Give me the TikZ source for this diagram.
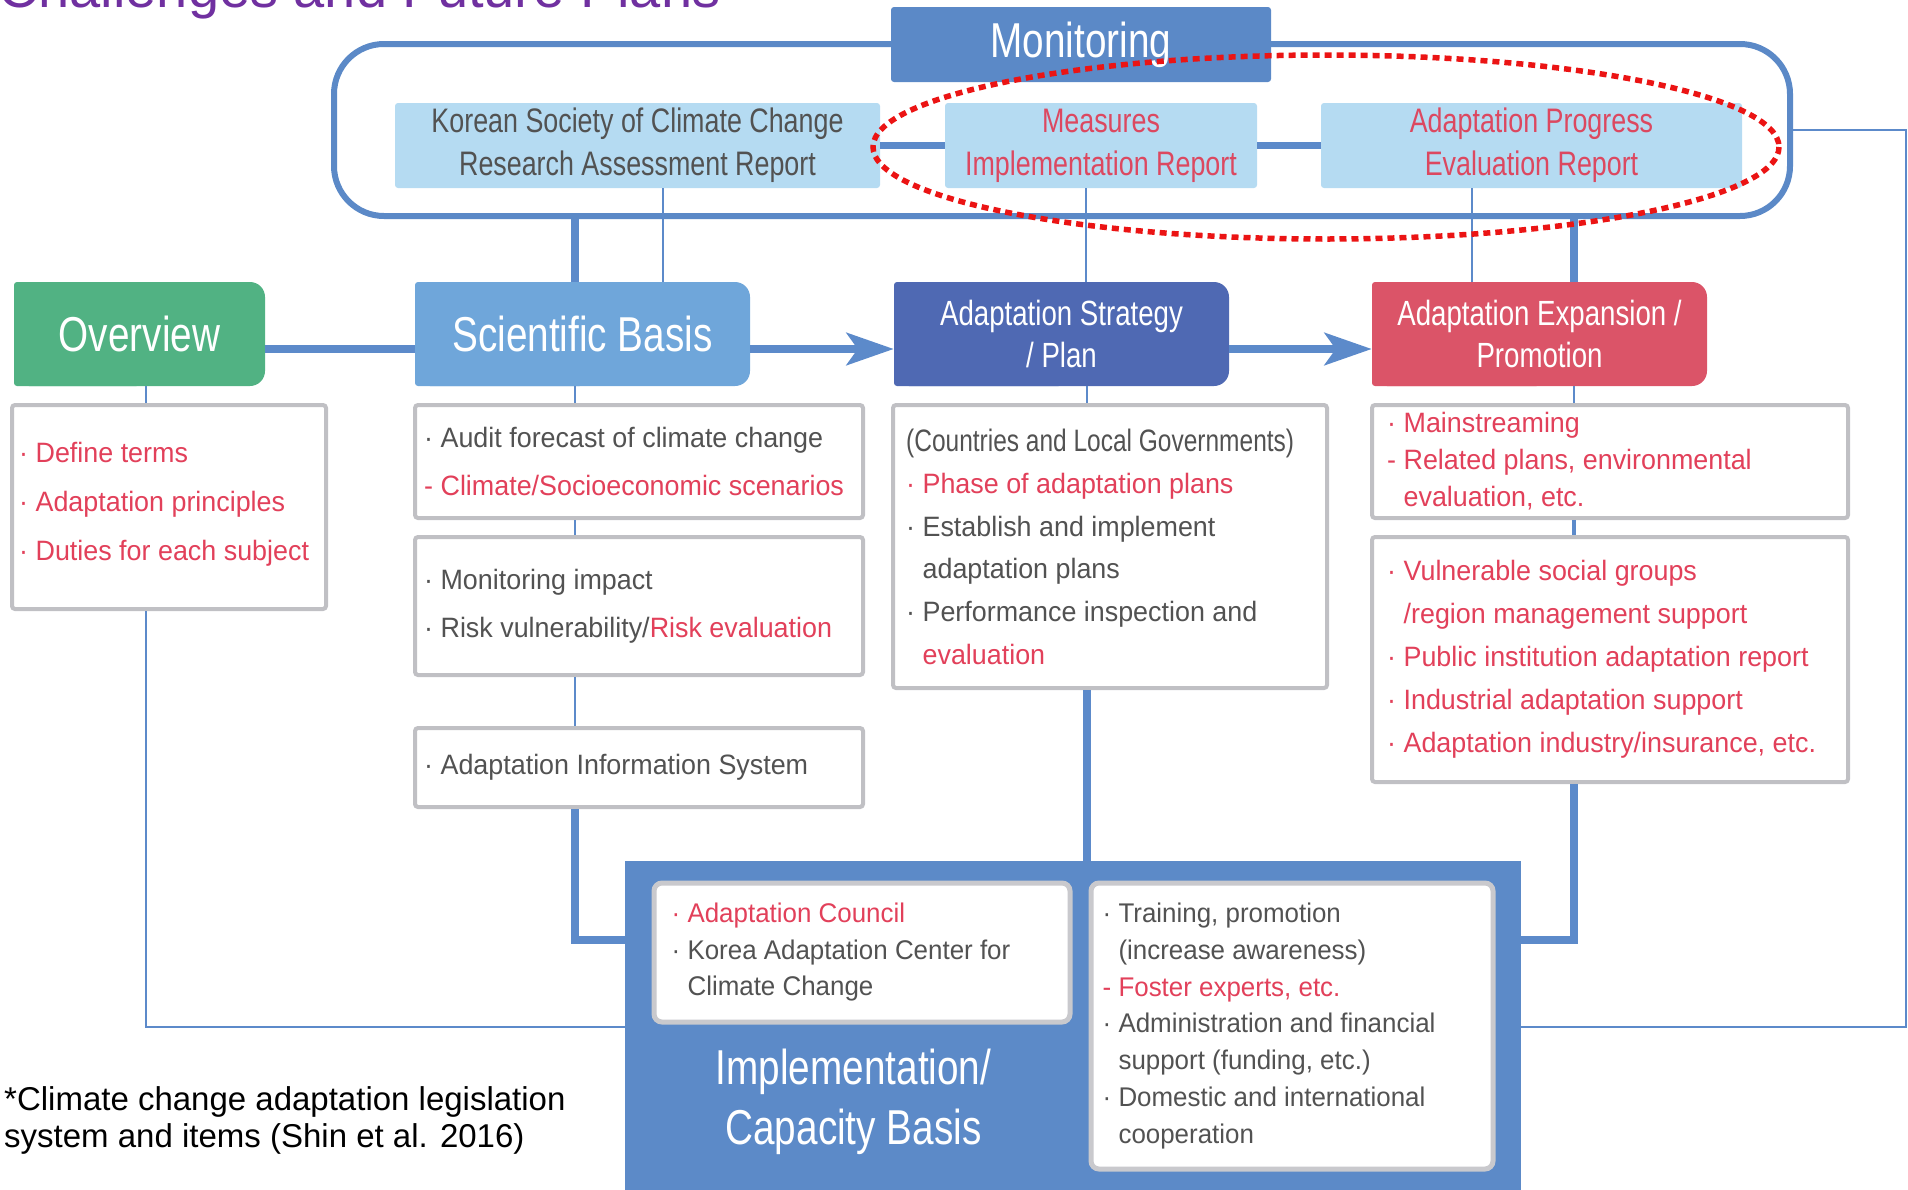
\documentclass[tikz,border=0pt]{standalone}
\usepackage{fontspec}
\setmainfont{Liberation Sans}
\newfontfamily\headfont{Liberation Sans}[FakeStretch=0.79]
\newfontfamily\boxfont{Liberation Sans}[FakeStretch=0.96]
\usetikzlibrary{arrows.meta}
\usepackage{xcolor}

\definecolor{monblue}{RGB}{91,137,199}
\definecolor{linkblue}{RGB}{92,138,202}
\definecolor{panelblue}{RGB}{92,138,200}
\definecolor{ovgreen}{RGB}{81,178,131}
\definecolor{sbblue}{RGB}{111,166,218}
\definecolor{asblue}{RGB}{79,105,179}
\definecolor{aered}{RGB}{219,84,104}
\definecolor{rptblue}{RGB}{181,219,242}
\definecolor{boxgray}{RGB}{192,192,196}
\definecolor{txtgray}{RGB}{82,82,82}
\definecolor{txtred}{RGB}{226,64,90}
\definecolor{rptred}{RGB}{220,72,96}
\definecolor{dotred}{RGB}{235,20,20}
\definecolor{titlepurple}{RGB}{112,48,160}

\newcommand{\hdbig}{\headfont\fontsize{49}{60}\selectfont}
\newcommand{\hdmid}{\headfont\fontsize{35}{42}\selectfont}
\newcommand{\hdrpt}{\headfont\fontsize{34}{43}\selectfont}

\begin{document}
\begin{tikzpicture}[
  x=1pt, y=-1pt,
  header/.style={
    fill=white, text=white, align=center, inner sep=0pt,
    minimum width=335pt, minimum height=104pt,
    path picture={
      \fill[#1, rounded corners=15pt]
        (path picture bounding box.south west) rectangle (path picture bounding box.north east);
      \fill[#1, rounded corners=3pt]
        (path picture bounding box.south west) rectangle (path picture bounding box.north);
    },
  },
  rptbox/.style={
    fill=rptblue, rounded corners=3pt, inner sep=0pt,
    minimum height=85pt, align=center, font=\hdrpt,
  },
  bodybox/.style={
    draw=boxgray, line width=4pt, fill=white, rounded corners=3pt, inner sep=0pt,
  },
  innerbox/.style={
    draw=boxgray!85, line width=5pt, fill=white, rounded corners=8pt, inner sep=0pt,
  },
  bodytext/.style 2 args={
    anchor=west, align=left, inner sep=0pt, text=txtgray,
    font=\boxfont\fontsize{#1}{#2}\selectfont,
  },
  thickcon/.style={draw=linkblue, line width=8.5pt},
  thincon/.style={draw=linkblue, line width=2.5pt},
  arrowcon/.style={thickcon, -{Stealth[length=47pt, width=32pt, inset=11pt]}},
  ]
  \useasboundingbox (0,0) rectangle (1908,1189);

  % page title, cut by the top edge
  \node[anchor=base west, inner sep=0pt, text=titlepurple,
    font=\fontsize{56}{56}\selectfont] (title) at (-2,7) {Challenges and Future Plans};

  \coordinate (lowrun) at (0,1027);
  \coordinate (midrun) at (0,940);
  \coordinate (rimrun) at (1906,0);

  % monitoring
  \node[draw=monblue, line width=6pt, rounded corners=50pt,
    minimum width=1456pt, minimum height=172pt] (monframe) at (1062,130) {};
  \node[rptbox, text=txtgray, minimum width=485pt]
    (ksr) at (637.5,145.5) {Korean Society of Climate Change\\Research Assessment Report};
  \node[rptbox, text=rptred, minimum width=312pt]
    (mir) at (1101,145.5) {Measures\\Implementation Report};
  \node[rptbox, text=rptred, minimum width=421pt]
    (aper) at (1531.5,145.5) {Adaptation Progress\\Evaluation Report};
  \draw[thickcon, line width=7pt] (ksr) -- (mir);
  \draw[thickcon, line width=7pt] (mir) -- (aper);
  \node[fill=monblue, rounded corners=3pt, text=white, font=\hdbig,
    minimum width=380pt, minimum height=75pt] (mon) at (1081,44.5) {Monitoring};

  % headers
  \node[header=ovgreen, minimum width=251pt, font=\hdbig] (ov) at (139.5,334) {Overview};
  \node[header=sbblue, font=\hdbig] (sb) at (582.5,334) {Scientific Basis};
  \node[header=asblue, font=\hdmid] (as) at (1061.5,334) {Adaptation Strategy\\/ Plan};
  \node[header=aered, font=\hdmid] (ae) at (1539.5,334) {Adaptation Expansion /\\Promotion};

  \draw[thickcon] ([yshift=-15pt]ov.east) -- ([yshift=-15pt]sb.west);
  \draw[arrowcon] ([yshift=-15pt]sb.east) -- ([yshift=-15pt]as.west);
  \draw[arrowcon] ([yshift=-15pt]as.east) -- ([yshift=-15pt]ae.west);

  \draw[thickcon] ([xshift=-7.5pt]sb.north) -- ([xshift=-7.5pt]sb.north |- monframe.south);
  \draw[thincon] ([xshift=25.5pt]ksr.south) -- ([xshift=25.5pt]ksr.south |- sb.north);
  \draw[thincon] ([xshift=-15pt]mir.south) -- ([xshift=-15pt]mir.south |- as.north);
  \draw[thincon] ([xshift=-59.5pt]aper.south) -- ([xshift=-59.5pt]aper.south |- ae.north);
  \draw[thickcon] ([xshift=34.5pt]ae.north) -- ([xshift=34.5pt]ae.north |- monframe.south);

  % overview
  \node[bodybox, minimum width=314pt, minimum height=204pt] (ovb) at (169,507) {};
  \node[bodytext={28}{49}, text=txtred] (ovbtext) at ([xshift=9pt,yshift=3pt]ovb.west)
    {· Define terms\\· Adaptation principles\\· Duties for each subject};

  % scientific basis
  \node[bodybox, minimum width=448pt, minimum height=113pt] (sb1) at (639,461.5) {};
  \node[bodytext={28}{48}] (sb1text) at ([xshift=11pt]sb1.west)
    {· Audit forecast of climate change\\\textcolor{txtred}{- Climate/Socioeconomic scenarios}};
  \node[bodybox, minimum width=448pt, minimum height=138pt] (sb2) at (639,606) {};
  \node[bodytext={28}{48}] (sb2text) at ([xshift=11pt]sb2.west)
    {· Monitoring impact\\· Risk vulnerability/\textcolor{txtred}{Risk evaluation}};
  \node[bodybox, minimum width=448pt, minimum height=79pt] (sb3) at (639,767.5) {};
  \node[bodytext={28}{48}] (sb3text) at ([xshift=11pt]sb3.west)
    {· Adaptation Information System};

  % strategy
  \node[bodybox, minimum width=434pt, minimum height=283pt] (asb) at (1110,546.5) {};
  \node[bodytext={28}{42.6}] (asbtext) at ([xshift=15pt]asb.west)
    {{\headfont\fontsize{31}{42.6}\selectfont (Countries and Local Governments)}\\
     \textcolor{txtred}{· Phase of adaptation plans}\\
     · Establish and implement\\
     \phantom{· }adaptation plans\\
     · Performance inspection and\\
     \phantom{· }\textcolor{txtred}{evaluation}};

  % expansion
  \node[bodybox, minimum width=476pt, minimum height=113pt] (ae1) at (1610,461.5) {};
  \node[bodytext={28}{37}, text=txtred] (ae1text) at ([xshift=17pt]ae1.west)
    {· Mainstreaming\\- Related plans, environmental\\\phantom{- }evaluation, etc.};
  \node[bodybox, minimum width=476pt, minimum height=245pt] (ae2) at (1610,659.5) {};
  \node[bodytext={28}{43}, text=txtred] (ae2text) at ([xshift=17pt]ae2.west)
    {· Vulnerable social groups\\
     \phantom{· }/region management support\\
     · Public institution adaptation report\\
     · Industrial adaptation support\\
     · Adaptation industry/insurance, etc.};

  % implementation / capacity basis
  \node[fill=panelblue, minimum width=896pt, minimum height=340pt, inner sep=0pt]
    (impl) at (1073,1031) {};
  \node[innerbox, minimum width=416pt, minimum height=139pt] (ib1) at (862,952.5) {};
  \node[bodytext={27}{36.5}] (ib1text) at ([xshift=20pt]ib1.west)
    {\textcolor{txtred}{· Adaptation Council}\\
     · Korea Adaptation Center for\\
     \phantom{· }Climate Change};
  \node[innerbox, minimum width=402pt, minimum height=286pt] (ib2) at (1292,1026) {};
  \node[bodytext={27}{36.7}] (ib2text) at ([xshift=14pt]ib2.west)
    {· Training, promotion\\
     \phantom{· }(increase awareness)\\
     \textcolor{txtred}{- Foster experts, etc.}\\
     · Administration and financial\\
     \phantom{· }support (funding, etc.)\\
     · Domestic and international\\
     \phantom{· }cooperation};
  \node[text=white, font=\hdbig, align=center, inner sep=0pt]
    (impltitle) at (853.5,1102) {Implementation/\\Capacity Basis};

  % links down to the panel
  \draw[thincon] ([xshift=6.5pt]ov.south) -- ([xshift=6.5pt]ov.south |- ovb.north);
  \draw[thincon] ([xshift=-23pt]ovb.south) |- (impl.west |- lowrun);
  \draw[thincon] ([xshift=-7.5pt]sb.south) -- ([xshift=-7.5pt]sb.south |- sb1.north);
  \draw[thincon] ([xshift=-64pt]sb1.south) -- ([xshift=-64pt]sb1.south |- sb2.north);
  \draw[thincon] ([xshift=-64pt]sb2.south) -- ([xshift=-64pt]sb2.south |- sb3.north);
  \draw[thickcon] ([xshift=-64pt]sb3.south) |- (impl.west |- midrun);
  \draw[thincon] ([xshift=25.5pt]as.south) -- ([xshift=25.5pt]as.south |- asb.north);
  \draw[thickcon] ([xshift=-23pt]asb.south) -- ([xshift=-23pt]asb.south |- impl.north);
  \draw[thincon] ([xshift=34.5pt]ae.south) -- ([xshift=34.5pt]ae.south |- ae1.north);
  \draw[thincon, line width=4pt] ([xshift=-36pt]ae1.south) -- ([xshift=-36pt]ae1.south |- ae2.north);
  \draw[thickcon] ([xshift=-36pt]ae2.south) |- (impl.east |- midrun);
  \draw[thincon] (monframe.east) -| (rimrun |- lowrun) -- (impl.east |- lowrun);

  % source note
  \node[anchor=west, align=left, inner sep=0pt, font=\fontsize{33}{37}\selectfont]
    (source) at (4,1120) {*Climate change adaptation legislation\\system and items (Shin et al. 2016)};

  % highlight
  \draw[dotred, line width=5.5pt, dash pattern=on 7pt off 5pt]
    (1326,147) ellipse [x radius=453, y radius=92];
\end{tikzpicture}
\end{document}
